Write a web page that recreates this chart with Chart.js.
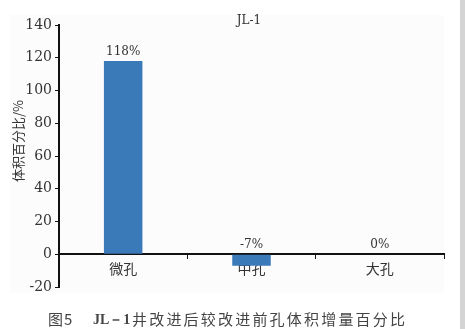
<!DOCTYPE html>
<html>
<head>
<meta charset="utf-8">
<script src="https://cdn.jsdelivr.net/npm/chart.js@4"></script>
<style>
  html, body { margin: 0; padding: 0; background: #fff; }
  canvas { display: block; }
</style>
</head>
<body>
<canvas id="chart" width="465" height="329"></canvas>
<script>
// data
const categories = ['微孔', '中孔', '大孔'];
const increase = [118, -7, 0];
const valueLabels = ['118%', '-7%', '0%'];
const yTicks = [-20, 0, 20, 40, 60, 80, 100, 120, 140];

const chartTitle = 'JL-1';
const yTitle = '体积百分比/%';
const captionNo = '图5';
const captionWell = 'JL－1';
const captionText = '井改进后较改进前孔体积增量百分比';

const serif = "'DejaVu Serif', 'Liberation Serif', serif";
const cjk = "'Noto Sans CJK SC', sans-serif";

// panel background, strip at right edge
const backdrop = {
    id: 'backdrop',
    beforeDraw(chart) {
        const c = chart.ctx;
        c.save();
        c.fillStyle = '#fcfcfc';
        c.fillRect(10, 15, 434, 278);
        c.fillStyle = '#d4d4d4';
        c.fillRect(460, 0, 5, 329);
        c.restore();
    }
};

// value labels over the bars + texts
const annotate = {
    id: 'annotate',
    afterDatasetsDraw(chart) {
        const c = chart.ctx;
        const meta = chart.getDatasetMeta(0);
        const zero = chart.scales.y.getPixelForValue(0);
        c.save();
        c.fillStyle = '#333';
        c.textAlign = 'center';
        c.textBaseline = 'bottom';
        c.font = '12px ' + serif;
        meta.data.forEach((bar, i) => {
            const top = Math.min(bar.y, zero);
            c.fillText(valueLabels[i], bar.x, top - 3);
        });

        c.font = '12px ' + serif;
        c.fillText(chartTitle, 249, 27);

        c.save();
        c.translate(18, 141);
        c.rotate(-Math.PI / 2);
        c.textBaseline = 'middle';
        c.font = '13px ' + cjk;
        c.fillText(yTitle, 0, 0);
        c.restore();

        // caption
        c.textAlign = 'left';
        c.textBaseline = 'middle';
        c.fillStyle = '#444';
        c.font = '15px ' + cjk;
        c.letterSpacing = '1px';
        c.fillText(captionNo, 48, 319);
        c.font = 'bold 14px ' + "'Liberation Serif', serif";
        c.letterSpacing = '0px';
        c.fillText(captionWell, 93, 320);
        c.font = '15px ' + cjk;
        c.letterSpacing = '2.2px';
        c.fillText(captionText, 132, 319);
        c.restore();
    }
};

new Chart(document.getElementById('chart'), {
    type: 'bar',
    data: {
        labels: categories,
        datasets: [{
            data: increase,
            backgroundColor: '#3a7ab9',
            borderWidth: 0,
            categoryPercentage: 1,
            barPercentage: 0.3
        }]
    },
    options: {
        responsive: false,
        animation: false,
        layout: {
            padding: { left: 10, top: 25, right: 21, bottom: 42 }
        },
        plugins: {
            legend: { display: false },
            tooltip: { enabled: false }
        },
        scales: {
            y: {
                min: yTicks[0],
                max: yTicks[yTicks.length - 1],
                afterFit: scale => { scale.width = 49; },
                afterBuildTicks: scale => {
                    scale.ticks = yTicks.map(v => ({ value: v }));
                },
                ticks: {
                    color: '#333',
                    padding: 3,
                    font: { family: serif, size: 14 }
                },
                grid: {
                    drawOnChartArea: false,
                    tickLength: 4,
                    color: '#111'
                },
                border: { color: '#111', width: 2 }
            },
            x: {
                position: { y: 0 },
                offset: true,
                ticks: {
                    color: '#333',
                    padding: 2,
                    font: { family: cjk, size: 14 }
                },
                grid: {
                    drawOnChartArea: false,
                    tickLength: 4,
                    color: '#111'
                },
                border: { color: '#111', width: 2 }
            }
        }
    },
    plugins: [backdrop, annotate]
});
</script>
</body>
</html>
